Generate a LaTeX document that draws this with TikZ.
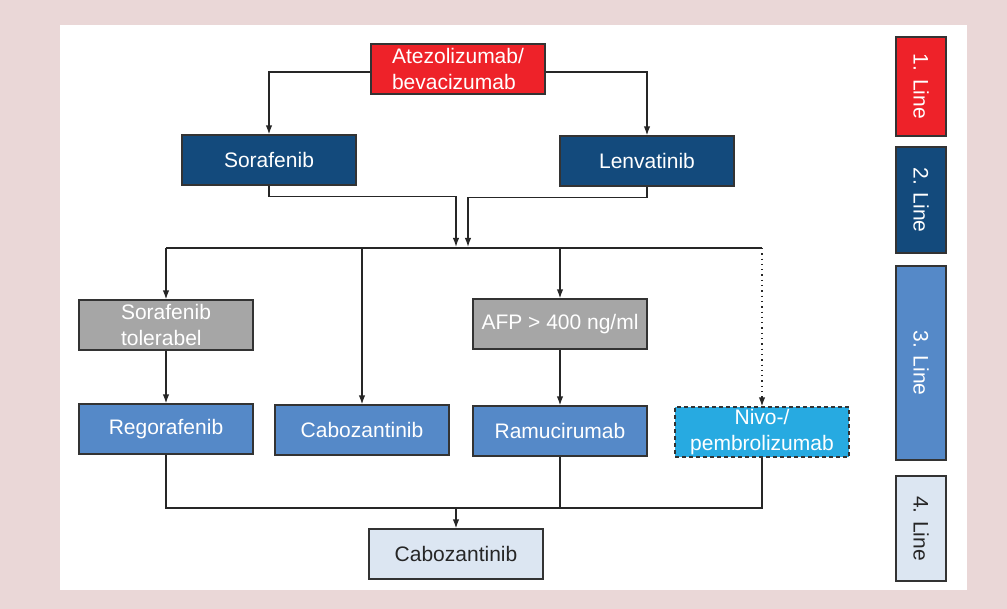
\documentclass[tikz,border=0pt]{standalone}
\usepackage{fontspec}
\setmainfont{Liberation Sans}
\usetikzlibrary{arrows.meta}
\definecolor{bgpink}{HTML}{EAD7D7}
\definecolor{line1}{HTML}{EE2229}
\definecolor{line2}{HTML}{134A7C}
\definecolor{line3}{HTML}{5589C8}
\definecolor{line4}{HTML}{DCE6F2}
\definecolor{cond}{HTML}{A6A6A6}
\definecolor{nivo}{HTML}{27AAE1}
\begin{document}
\begin{tikzpicture}[x=0.5pt,y=-0.5pt,>={Latex[length=4.5pt,width=3.2pt]},
  box/.style={draw=black!80, line width=0.6pt, minimum width=87pt, minimum height=25pt,
    inner sep=0pt, text=white, font=\fontsize{10.5}{13}\selectfont},
  conn/.style={draw=black!85, line width=0.65pt}]
\fill[bgpink] (0,0) rectangle (1007,609);
\fill[white] (60,25) rectangle (967,590);
\node[box, fill=line1, align=left] (1) at (458,69) {Atezolizumab/\\bevacizumab};
\node[box, fill=line2] (2) at (269,160) {Sorafenib};
\node[box, fill=line2] (3) at (647,161) {Lenvatinib};
\node[box, fill=cond, align=left] (4) at (166,325) {Sorafenib\\tolerabel};
\node[box, fill=cond] (5) at (560,324) {AFP > 400 ng/ml};
\node[box, fill=line3] (6) at (166,429) {Regorafenib};
\node[box, fill=line3] (7) at (362,430) {Cabozantinib};
\node[box, fill=line3] (8) at (560,431) {Ramucirumab};
\node[box, fill=nivo, dash pattern=on 2pt off 1.5pt, align=center] (9) at (762,432) {Nivo-/\\pembrolizumab};
\node[box, fill=line4, text=black!85] (10) at (456,554) {Cabozantinib};
\node[box, fill=line1, rotate=-90, minimum width=49.5pt] (L1) at (921,86.5) {1. Line};
\node[box, fill=line2, rotate=-90, minimum width=53pt] (L2) at (921,200) {2. Line};
\node[box, fill=line3, rotate=-90, minimum width=97pt] (L3) at (921,363) {3. Line};
\node[box, fill=line4, text=black!85, rotate=-90, minimum width=52.5pt] (L4) at (921,528.5) {4. Line};
\coordinate (m1) at (456,247);
\coordinate (m2) at (468,247);
\coordinate (bl) at (166,248);
\coordinate (br) at (762,248);
\coordinate (cl) at (166,508);
\path[conn,->] ([yshift=-1.5pt]1.west) -| (2);
\path[conn,->] ([yshift=-1.5pt]1.east) -| (3);
\path[conn,->] (2.south) -- ++(0,11) -| (m1);
\path[conn,->] (3.south) -- ++(0,11) -| (m2);
\path[conn] (bl) -- (br);
\path[conn,->] (bl) -- (4);
\path[conn,->] (7 |- bl) -- (7);
\path[conn,->] (5 |- bl) -- (5);
\path[conn,->,dotted] (br) -- (9);
\path[conn,->] (4) -- (6);
\path[conn,->] (5) -- (8);
\path[conn] (6.south) |- (9 |- cl) -- (9.south);
\path[conn] (8.south) -- (8 |- cl);
\path[conn,->] (10 |- cl) -- (10);
\end{tikzpicture}
\end{document}
